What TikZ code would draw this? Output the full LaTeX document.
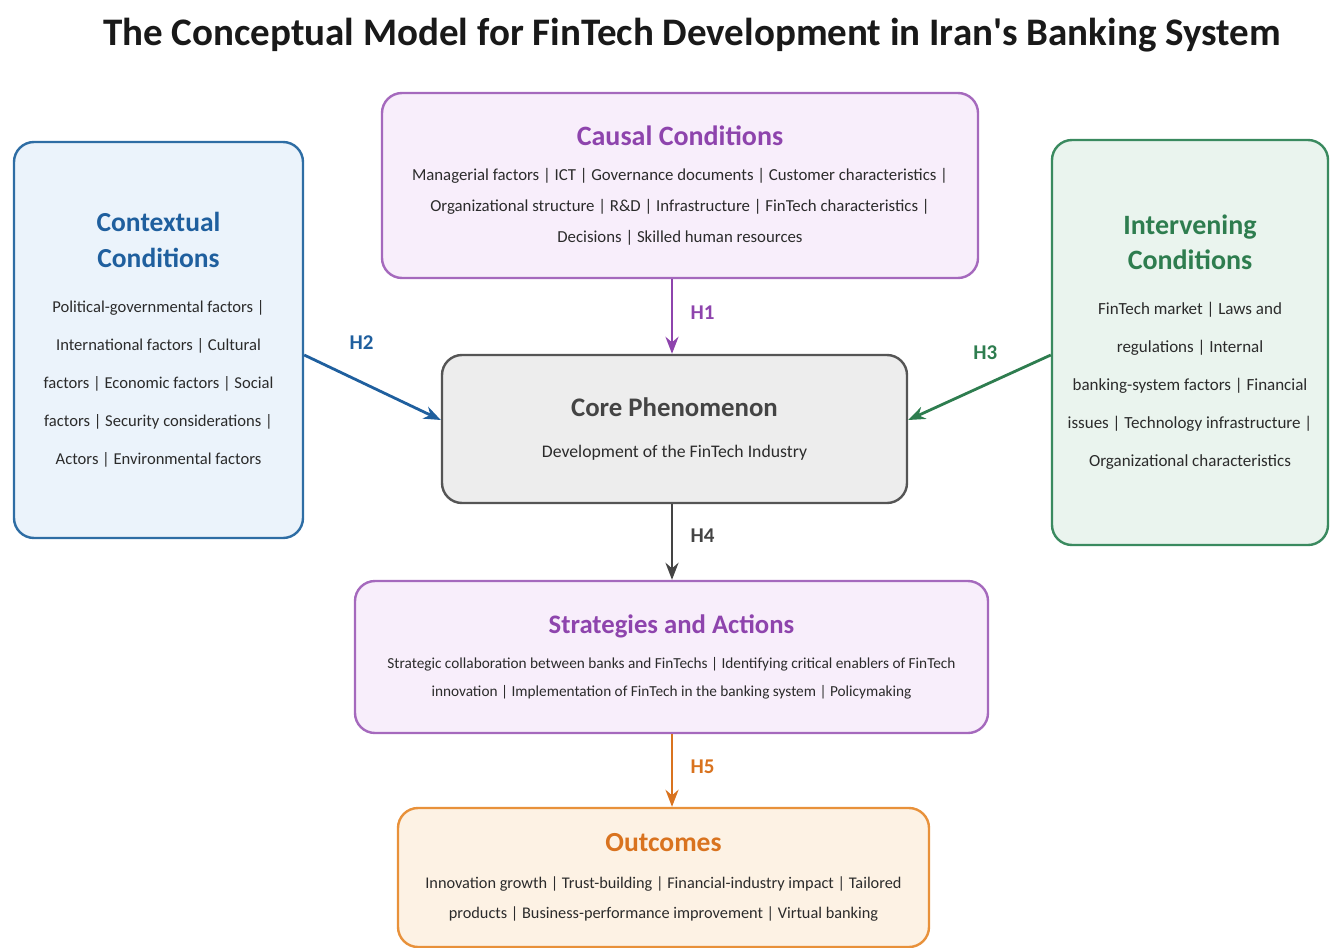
\documentclass[tikz,border=0pt]{standalone}
\usepackage{fontspec}
\setmainfont{Carlito}
\usepackage{xcolor}
\usetikzlibrary{calc,arrows.meta}

\definecolor{causalC}{HTML}{8E44AD}
\definecolor{causalF}{HTML}{F8EEFB}
\definecolor{contextC}{HTML}{1F5F9E}
\definecolor{contextB}{HTML}{2E6DA4}
\definecolor{contextF}{HTML}{EBF3FB}
\definecolor{intervC}{HTML}{2E7D4F}
\definecolor{intervB}{HTML}{3A8A5F}
\definecolor{intervF}{HTML}{EAF4EE}
\definecolor{coreC}{HTML}{444444}
\definecolor{coreB}{HTML}{555555}
\definecolor{coreF}{HTML}{EDEDED}
\definecolor{outC}{HTML}{D9731F}
\definecolor{outB}{HTML}{E8913A}
\definecolor{outF}{HTML}{FDF2E4}
\definecolor{bodyC}{HTML}{2B2B2B}

\newcommand{\boxtitle}[2]{{\fontsize{#1}{#1}\selectfont\bfseries #2}}

\begin{document}
\begin{tikzpicture}[x=1pt, y=-1pt,
  block/.style={rectangle, draw, rounded corners=20pt, line width=2.4pt,
                align=center, text=bodyC, inner sep=0pt},
  arrow/.style={-{Stealth[length=17pt, width=13pt]}, line width=2.8pt},
  hlabel/.style={font=\fontsize{21}{21}\selectfont\bfseries}
]
\useasboundingbox (0,0) rectangle (1332,947);

% Heading
\node[font=\fontsize{39}{39}\selectfont\bfseries, text=black!90] (heading) at (692,35)
  {The Conceptual Model for FinTech Development in Iran\textquotesingle s Banking System};

% Top: causal conditions
\node[block, draw=causalC!80, fill=causalF, minimum width=596pt, minimum height=185pt,
      font=\fontsize{16.8}{31}\selectfont] (causal) at (680,185.5)
  {\textcolor{causalC}{\boxtitle{28}{Causal Conditions}}\\[4pt]
   Managerial factors | ICT | Governance documents | Customer characteristics |\\
   Organizational structure | R\&D | Infrastructure | FinTech characteristics |\\
   Decisions | Skilled human resources};

% Left: contextual conditions
\node[block, draw=contextB, fill=contextF, minimum width=289pt, minimum height=396pt,
      font=\fontsize{16.6}{38}\selectfont] (context) at (158.5,340)
  {\textcolor{contextC}{\boxtitle{27.5}{Contextual}}\\[-2pt]
   \textcolor{contextC}{\boxtitle{27.5}{Conditions}}\\[7pt]
   Political-governmental factors |\\
   International factors | Cultural\\
   factors | Economic factors | Social\\
   factors | Security considerations |\\
   Actors | Environmental factors};

% Right: intervening conditions
\node[block, draw=intervB, fill=intervF, minimum width=276pt, minimum height=405pt,
      font=\fontsize{17}{38}\selectfont] (interv) at (1190,342.5)
  {\textcolor{intervC}{\boxtitle{28}{Intervening}}\\[-3pt]
   \textcolor{intervC}{\boxtitle{28}{Conditions}}\\[7pt]
   FinTech market | Laws and\\
   regulations | Internal\\
   banking-system factors | Financial\\
   issues | Technology infrastructure |\\
   Organizational characteristics};

% Centre: core phenomenon
\node[block, draw=coreB, fill=coreF, minimum width=465pt, minimum height=148pt,
      font=\fontsize{17.7}{30}\selectfont] (core) at (674.5,429)
  {\textcolor{coreC}{\boxtitle{26.8}{Core Phenomenon}}\\[11pt]
   Development of the FinTech Industry};

% Strategies and actions
\node[block, draw=causalC!80, fill=causalF, minimum width=633pt, minimum height=152pt,
      font=\fontsize{15.3}{28}\selectfont] (strat) at (671.5,657)
  {\textcolor{causalC}{\boxtitle{26.7}{Strategies and Actions}}\\[7pt]
   Strategic collaboration between banks and FinTechs | Identifying critical enablers of FinTech\\
   innovation | Implementation of FinTech in the banking system | Policymaking};

% Outcomes
\node[block, draw=outB, fill=outF, minimum width=531pt, minimum height=139pt,
      font=\fontsize{16.3}{30}\selectfont] (outcome) at (663.5,877.5)
  {\textcolor{outC}{\boxtitle{27.6}{Outcomes}}\\[7pt]
   Innovation growth | Trust-building | Financial-industry impact | Tailored\\
   products | Business-performance improvement | Virtual banking};

% Hypotheses
\draw[arrow, causalC] (causal.south -| 672,0) -- node[hlabel, pos=0.45, right=14pt] {H1} (core.north -| 672,0);
\draw[arrow, contextC] (context.east |- 0,355) -- node[hlabel, pos=0.42, above=28pt] {H2} (core.west |- 0,420);
\draw[arrow, intervC] (interv.west |- 0,355) -- node[hlabel, pos=0.46, above=21pt] {H3} (core.east |- 0,420);
\draw[arrow, coreC] (core.south -| 672,0) -- node[hlabel, pos=0.42, right=14pt] {H4} (strat.north -| 672,0);
\draw[arrow, outC] (strat.south -| 672,0) -- node[hlabel, pos=0.45, right=14pt] {H5} (outcome.north -| 672,0);

\end{tikzpicture}
\end{document}
